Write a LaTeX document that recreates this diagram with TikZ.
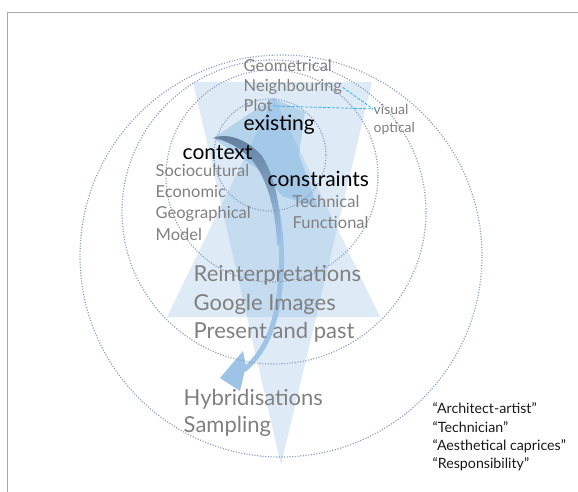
\documentclass[tikz,border=0pt]{standalone}
\usepackage{fontspec}
\setmainfont{Lato}
\usepackage{tikz}

\definecolor{paneblue}{RGB}{91,155,213}
\definecolor{ringblue}{RGB}{140,158,190}
\definecolor{arrowblue}{RGB}{157,195,230}
\definecolor{arrowdark}{RGB}{98,126,156}
\definecolor{dashblue}{RGB}{50,175,230}
\definecolor{labelgray}{RGB}{128,128,128}
\definecolor{framegray}{RGB}{170,170,170}

\begin{document}
\begin{tikzpicture}[x=1pt, y=-1pt,
        ring/.style={ringblue, line width=1.2pt, dash pattern=on 1.1pt off 1.6pt},
        pane/.style={fill=paneblue, fill opacity=0.2},
        small/.style={anchor=base west, inner sep=0.5pt, text=labelgray, font=\fontsize{16.5}{18}\selectfont},
        big/.style={anchor=base west, inner sep=0.5pt, text=labelgray, font=\fontsize{22}{24}\selectfont},
        key/.style={anchor=base west, inner sep=0.5pt, text=black, font=\fontsize{21}{23}\selectfont},
        side/.style={anchor=base west, inner sep=0.5pt, text=labelgray, font=\fontsize{14}{16}\selectfont},
        role/.style={anchor=base west, inner sep=0.5pt, text=black!90, font=\fontsize{14.2}{16}\selectfont},
        link/.style={dashblue, line width=0.8pt, dash pattern=on 3pt off 1.5pt}]
            \useasboundingbox (0,0) rectangle (578,492);
            \draw[framegray, line width=0.8pt] (7,492) -- (7,12) -- (578,12);

            \fill[pane] (193,82) -- (372,82) -- (281,465) -- cycle;
            \fill[pane] (167,317) -- (380,317) -- (274,97) -- cycle;
            \fill[pane, fill opacity=0.3] (213,138) -- (273,98) -- (305,112) -- (299,155) -- (318,208) -- (282,196) -- (262,172) -- cycle;

            \draw[arrowblue, line width=5pt] (240,145) .. controls (275,165) and (284,230) .. (281,275) .. controls (278,325) and (265,352) .. (244,370);
            \fill[arrowblue] (220,378) -- (243,351) -- (246,366) -- (240,391) -- cycle;
            \shade[top color=arrowdark, bottom color=arrowblue] (213,138) .. controls (225,133) and (245,137) .. (262,156) .. controls (276,178) and (281,210) .. (281,245) -- (277,245) .. controls (276,212) and (268,180) .. (252,160) .. controls (238,146) and (225,140) .. (213,138) -- cycle;

            \draw[ring] (281,256) circle[radius=201pt];
            \draw[ring] (274,212) circle[radius=152pt];
            \draw[ring] (272,176) circle[radius=106pt];
            \draw[ring] (270,155) circle[radius=56pt];

            \node[small] (geo) at (243,72) {Geometrical};
            \node[small] (neigh) at (243,92) {Neighbouring};
            \node[small] (plot) at (243,112) {Plot};
            \node[key] (existing) at (243,131) {existing};
            \node[key] (context) at (182,160) {context};
            \node[small] (socio) at (155,176) {Sociocultural};
            \node[small] (econ) at (155,197) {Economic};
            \node[small] (geog) at (155,218) {Geographical};
            \node[small] (model) at (155,240) {Model};
            \node[key] (constraints) at (267,186) {constraints};
            \node[small] (tech) at (292,207) {Technical};
            \node[small] (func) at (292,228) {Functional};
            \node[big] (reint) at (193,281) {Reinterpretations};
            \node[big] (google) at (193,310) {Google Images};
            \node[big] (present) at (193,338) {Present and past};
            \node[big] (hybrid) at (183,405) {Hybridisations};
            \node[big] (sampling) at (183,432) {Sampling};

            \node[side] (visual) at (373,114) {visual};
            \node[side] (optical) at (373,132) {optical};
            \draw[link] (neigh.east) -- (visual.west);
            \draw[link] (plot.east) -- (visual.west);

            \node[role] (artist) at (432,413) {“Architect-artist”};
            \node[role] (technician) at (432,432) {“Technician”};
            \node[role] (caprices) at (432,450) {“Aesthetical caprices”};
            \node[role] (duty) at (432,468) {“Responsibility”};
        \end{tikzpicture}
\end{document}
